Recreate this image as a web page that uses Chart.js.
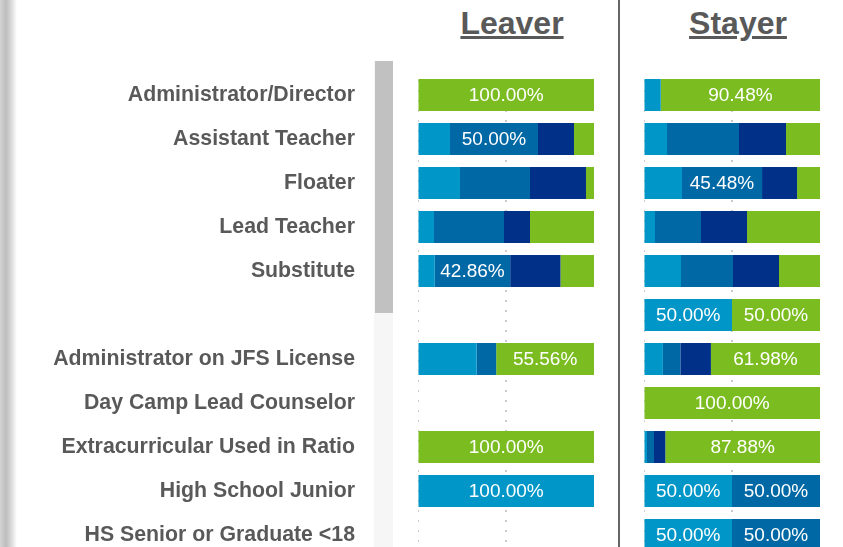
<!DOCTYPE html>
<html>
<head>
<meta charset="utf-8">
<script src="https://cdn.jsdelivr.net/npm/chart.js@4.4.1/dist/chart.umd.min.js"></script>
<style>
  html, body { margin: 0; padding: 0; background: #fff; overflow: hidden; }
  body { width: 843px; height: 547px; position: relative; font-family: "Liberation Sans", Arial, sans-serif; }
  .edge { position: absolute; left: 0; top: 0; width: 17px; height: 547px;
    background: linear-gradient(to right, #d4d4d4 0px, #bdbdbd 6px, #d8d8d8 11px, #f2f2f2 15px, #fff 17px); }
  .track { position: absolute; left: 374px; top: 61px; width: 19px; height: 486px; background: #f6f6f6; }
  .thumb { position: absolute; left: 375px; top: 61px; width: 18px; height: 252px; background: #c1c1c1; }
  .divider { position: absolute; left: 618px; top: 0; width: 2px; height: 547px; background: #666; }
  .title { position: absolute; top: 7px; width: 200px; text-align: center; font-weight: bold;
    font-size: 32px; line-height: 32px; color: #595959; text-decoration: underline; }
  canvas { position: absolute; top: 0; }
</style>
</head>
<body>
<div class="edge"></div>
<div class="track"></div>
<div class="thumb"></div>
<div class="divider"></div>
<div class="title" style="left:412px">Leaver</div>
<div class="title" style="left:638px">Stayer</div>
<canvas id="leaverChart" width="600" height="557" style="left:0"></canvas>
<canvas id="stayerChart" width="206" height="557" style="left:620px"></canvas>
<script>
// Categories (blank row kept as in the original)
const categories = [
    'Administrator/Director',
    'Assistant Teacher',
    'Floater',
    'Lead Teacher',
    'Substitute',
    '',
    'Administrator on JFS License',
    'Day Camp Lead Counselor',
    'Extracurricular Used in Ratio',
    'High School Junior',
    'HS Senior or Graduate <18'
];

// Leaver shares (%)
const leaverLight  = [0, 18.18, 23.86, 9.09, 9.52, 0, 33.33, 0, 0, 100, 0];
const leaverMedium = [0, 50.00, 39.77, 39.78, 42.86, 0, 11.11, 0, 0, 0, 0];
const leaverDark   = [0, 20.45, 31.82, 14.77, 28.57, 0, 0, 0, 0, 0, 0];
const leaverGreen  = [100, 11.36, 4.55, 36.36, 19.05, 0, 55.56, 0, 100, 0, 0];

// Stayer shares (%)
const stayerLight  = [9.52, 13.07, 21.59, 6.25, 21.02, 50, 10.74, 0, 1.70, 50, 50];
const stayerMedium = [0, 40.91, 45.48, 26.14, 29.55, 0, 9.92, 0, 3.98, 50, 50];
const stayerDark   = [0, 26.70, 19.89, 26.14, 26.14, 0, 17.36, 0, 6.44, 0, 0];
const stayerGreen  = [90.48, 19.32, 13.04, 41.47, 23.29, 50, 61.98, 100, 87.88, 0, 0];

const colors = ['#0096c8', '#0068a5', '#003087', '#7bbd21'];
const seriesNames = ['Light', 'Medium', 'Dark', 'Green'];
const labelThreshold = 42;

// draws the percentage inside large segments
const barLabels = {
    id: 'barLabels',
    afterDatasetsDraw(chart) {
        const ctx = chart.ctx;
        ctx.save();
        ctx.font = '19px "Liberation Sans", Arial, sans-serif';
        ctx.fillStyle = '#ffffff';
        ctx.textAlign = 'center';
        ctx.textBaseline = 'middle';
        chart.data.datasets.forEach((ds, i) => {
            const meta = chart.getDatasetMeta(i);
            meta.data.forEach((bar, j) => {
                const v = ds.data[j];
                if (v > labelThreshold) {
                    ctx.fillText(v.toFixed(2) + '%', (bar.x + bar.base) / 2, bar.y + 1);
                }
            });
        });
        ctx.restore();
    }
};

function makeChart(id, series, showLabels) {
    const ctx = document.getElementById(id).getContext('2d');
    const yScale = {
        stacked: true,
        display: showLabels,
        grid: { display: false, drawTicks: false },
        border: { display: false },
        ticks: {
            padding: 63,
            color: '#595959',
            font: { family: '"Liberation Sans", Arial, sans-serif', size: 21.3, weight: 'bold' }
        }
    };
    if (showLabels) {
        // fixed label column; drop the extra top/bottom padding the tick padding adds
        yScale.afterFit = s => {
            s.width = 418;
            s.paddingTop = 0;
            s.paddingBottom = 0;
        };
    }
    return new Chart(ctx, {
        type: 'bar',
        data: {
            labels: categories,
            datasets: series.map((d, i) => ({
                label: seriesNames[i],
                data: d,
                backgroundColor: colors[i],
                borderWidth: 0,
                categoryPercentage: 1,
                barPercentage: 32 / 44
            }))
        },
        options: {
            indexAxis: 'y',
            responsive: false,
            animation: false,
            devicePixelRatio: 1,
            layout: { padding: { top: 73, right: 6, bottom: 0, left: showLabels ? 0 : 24 } },
            plugins: { legend: { display: false }, tooltip: { enabled: false } },
            scales: {
                x: {
                    stacked: true,
                    min: 0,
                    max: 100,
                    ticks: { display: false, stepSize: 50 },
                    border: { display: false, dash: [2, 8], dashOffset: 3 },
                    grid: {
                        drawTicks: false,
                        lineWidth: c => (c.tick && c.tick.value === 0) ? 1 : 2,
                        color: c => (c.tick && c.tick.value === 100) ? 'rgba(0,0,0,0)' : '#cccccc'
                    },
                    afterFit: s => { s.height = 0; }
                },
                y: yScale
            }
        },
        plugins: [barLabels]
    });
}

makeChart('leaverChart', [leaverLight, leaverMedium, leaverDark, leaverGreen], true);
makeChart('stayerChart', [stayerLight, stayerMedium, stayerDark, stayerGreen], false);
</script>
</body>
</html>
